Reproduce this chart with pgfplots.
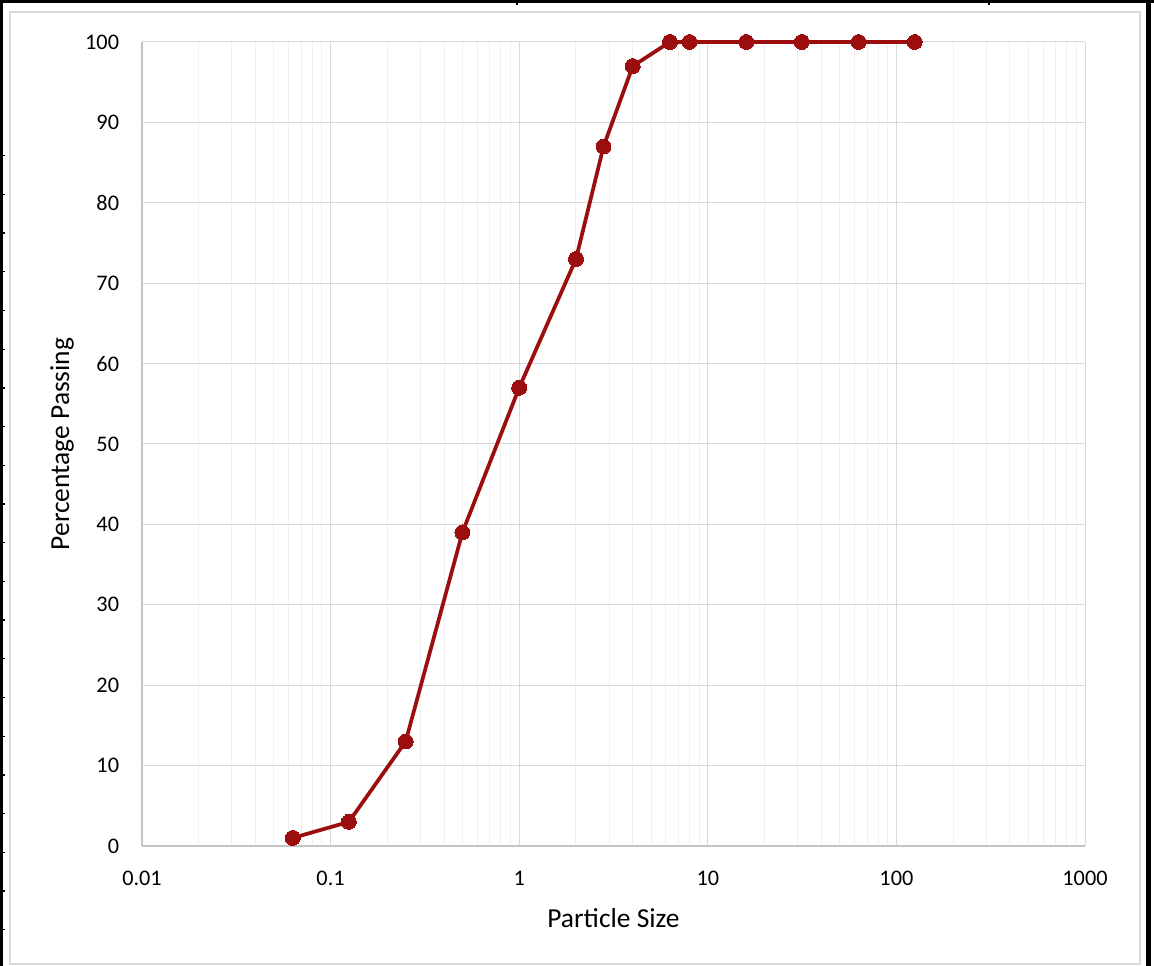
\documentclass[border=0pt]{standalone}
\usepackage{pgfplots}
\pgfplotsset{compat=1.18}
\usepackage{fontspec}
\setmainfont{Carlito}

\definecolor{curve}{RGB}{156,14,14}
\definecolor{majgrid}{RGB}{217,217,217}
\definecolor{mingrid}{RGB}{240,240,240}
\definecolor{axline}{RGB}{196,196,196}

\newcommand{\tickfont}{\fontsize{16.7pt}{19pt}\selectfont}
\newcommand{\labelfont}{\fontsize{20.6pt}{24pt}\selectfont}

\pgfplotstableread{
size   passing
0.063  1
0.125  3
0.25   13
0.5    39
1      57
2      73
2.8    87
4      97
6.3    100
8      100
16     100
31.5   100
63     100
125    100
}\sieve

\begin{document}
\begin{tikzpicture}
  \useasboundingbox (0,0) rectangle (865.5pt,724.5pt);
  % outer frame (sheet border and chart area)
  \fill[white] (0,0) rectangle (865.5pt,724.5pt);
  \draw[majgrid, line width=1.1pt] (7.5pt,1.5pt) rectangle (855pt,715.5pt);
  \draw[black, line width=2.25pt] (1.125pt,0) -- (1.125pt,724.5pt);
  \draw[black, line width=2.4pt] (0,723.3pt) -- (865.5pt,723.3pt);
  \draw[black, line width=3.9pt] (861.4pt,0) -- (861.4pt,724.5pt);
  \foreach \k in {0,...,20}
    \draw[black, line width=1pt] (2pt,{(966-155.7-38.7*\k)*0.75pt}) -- (3.8pt,{(966-155.7-38.7*\k)*0.75pt});
  \draw[black, line width=1pt] (387.75pt,722pt) -- (387.75pt,720.5pt);
  \draw[black, line width=1pt] (741.75pt,722pt) -- (741.75pt,720.5pt);

  \begin{axis}[
    at={(106.5pt,90pt)}, anchor=south west,
    scale only axis,
    width=707.25pt, height=603pt,
    xmode=log,
    xmin=0.01, xmax=1000,
    ymin=0, ymax=100,
    clip=false,
    axis x line*=bottom, axis y line*=left,
    axis line style={axline, line width=0.9pt},
    xtick={0.01,0.1,1,10,100,1000},
    xticklabels={0.01,0.1,1,10,100,1000},
    minor xtick={0.02,0.03,0.04,0.05,0.06,0.07,0.08,0.09,
                 0.2,0.3,0.4,0.5,0.6,0.7,0.8,0.9,
                 2,3,4,5,6,7,8,9,
                 20,30,40,50,60,70,80,90,
                 200,300,400,500,600,700,800,900},
    ytick={0,10,...,100},
    yticklabels={0,10,20,30,40,50,60,70,80,90,100},
    major tick length=0pt, minor tick length=0pt,
    grid=both,
    major grid style={majgrid, line width=0.75pt},
    minor grid style={mingrid, line width=0.75pt},
    tick label style={font=\tickfont, text=black},
    xticklabel style={inner sep=0pt, anchor=north, yshift=-18.5pt},
    yticklabel style={inner sep=0pt, anchor=east, xshift=-17pt},
    xlabel={Particle Size},
    ylabel={Percentage Passing},
    xlabel style={font=\labelfont, text=black, at={(axis description cs:0.5,-0.0896)}, anchor=center, inner sep=0pt},
    ylabel style={font=\labelfont, text=black, at={(axis description cs:-0.0848,0.5)}, anchor=center, inner sep=0pt},
  ]
    \addplot[curve, line width=2.8pt, mark=*, mark size=5.6pt,
             mark options={fill=curve, draw=curve, line width=0pt}]
      table[x=size, y=passing] {\sieve};
  \end{axis}
\end{tikzpicture}
\end{document}
